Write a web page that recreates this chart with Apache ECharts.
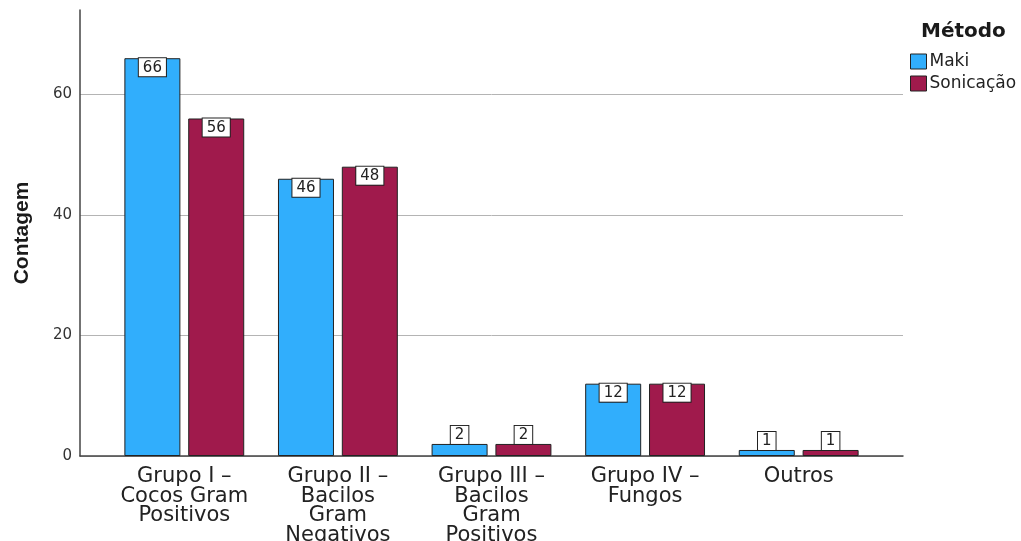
<!DOCTYPE html>
<html>
<head>
<meta charset="utf-8">
<script src="https://cdn.jsdelivr.net/npm/echarts@6/dist/echarts.min.js"></script>
<style>
    html, body { margin: 0; padding: 0; background: #fff; }
    #chart { width: 1021px; height: 541px; }
</style>
</head>
<body>
<div id="chart"></div>
<script>
var categories = [
    'Grupo I –\nCocos Gram\nPositivos',
    'Grupo II –\nBacilos\nGram\nNegativos',
    'Grupo III –\nBacilos\nGram\nPositivos',
    'Grupo IV –\nFungos',
    'Outros'
];
var makiValues = [66, 46, 2, 12, 1];
var sonicacaoValues = [56, 48, 2, 12, 1];
var seriesNames = ['Maki', 'Sonicação'];
var yTicks = [0, 20, 40, 60];

var makiColor = '#31aefc';
var sonicacaoColor = '#a01a4c';

function barData(values) {
    // small bars get the label above, tall bars inside the top
    return values.map(function (v) {
        return {
            value: v,
            label: { position: v < 5 ? 'top' : 'insideTop' }
        };
    });
}

function barSeries(name, color, values) {
    return {
        name: name,
        type: 'bar',
        xAxisIndex: 0,
        yAxisIndex: 0,
        barWidth: 56,
        barGap: '14%',
        itemStyle: {
            color: color,
            borderColor: '#222',
            borderWidth: 1
        },
        label: {
            show: true,
            distance: 0,
            color: '#222',
            fontFamily: 'DejaVu Sans',
            fontSize: 15,
            backgroundColor: '#fff',
            borderColor: '#222',
            borderWidth: 1,
            padding: [2, 4, 1, 4]
        },
        data: barData(values)
    };
}

var myChart = echarts.init(document.getElementById('chart'));
var option = {
    animation: false,
    title: {
        text: 'Método',
        left: 916,
        top: 17,
        textStyle: {
            fontFamily: 'DejaVu Sans',
            fontWeight: 'bold',
            fontSize: 20,
            color: '#1a1a1a'
        }
    },
    legend: {
        data: seriesNames,
        orient: 'vertical',
        left: 905,
        top: 48,
        itemWidth: 16,
        itemHeight: 15,
        itemGap: 5,
        icon: 'rect',
        itemStyle: {
            borderColor: '#222',
            borderWidth: 1
        },
        textStyle: {
            fontFamily: 'DejaVu Sans',
            fontSize: 17,
            lineHeight: 15,
            color: '#222',
            padding: [0, 0, 0, -2]
        }
    },
    grid: [
        { left: 107.5, right: 145.5, top: 10, bottom: 85, outerBoundsMode: 'none' },
        { left: 80, right: 118, top: 10, bottom: 85, outerBoundsMode: 'none' }
    ],
    xAxis: [
        {
            type: 'category',
            gridIndex: 0,
            data: categories,
            axisLine: { show: false },
            axisTick: { show: false },
            axisLabel: {
                interval: 0,
                margin: 11,
                color: '#222',
                fontFamily: 'DejaVu Sans',
                fontSize: 21,
                lineHeight: 19.5
            }
        },
        {
            type: 'value',
            gridIndex: 1,
            min: 0,
            max: 1,
            axisLine: { show: true, lineStyle: { color: '#444', width: 1.5 } },
            axisTick: { show: false },
            axisLabel: { show: false },
            splitLine: { show: false }
        }
    ],
    yAxis: [
        {
            type: 'value',
            gridIndex: 0,
            min: 0,
            max: 74,
            show: false
        },
        {
            type: 'value',
            gridIndex: 1,
            min: 0,
            max: 74,
            interval: 20,
            name: 'Contagem',
            nameLocation: 'middle',
            nameGap: 47,
            nameTextStyle: {
                fontFamily: 'Liberation Sans',
                fontWeight: 'bold',
                fontSize: 21,
                color: '#1a1a1a'
            },
            axisLine: { show: true, lineStyle: { color: '#444', width: 1.5 } },
            axisTick: { show: false },
            axisLabel: {
                margin: 8,
                color: '#333',
                fontFamily: 'DejaVu Sans',
                fontSize: 15,
                formatter: function (v) {
                    return yTicks.indexOf(v) >= 0 ? String(v) : '';
                }
            },
            splitLine: {
                show: true,
                showMaxLine: false,
                lineStyle: { color: '#b4b4b4', width: 1 }
            }
        }
    ],
    series: [
        barSeries(seriesNames[0], makiColor, makiValues),
        barSeries(seriesNames[1], sonicacaoColor, sonicacaoValues)
    ]
};

myChart.setOption(option);
</script>
</body>
</html>
